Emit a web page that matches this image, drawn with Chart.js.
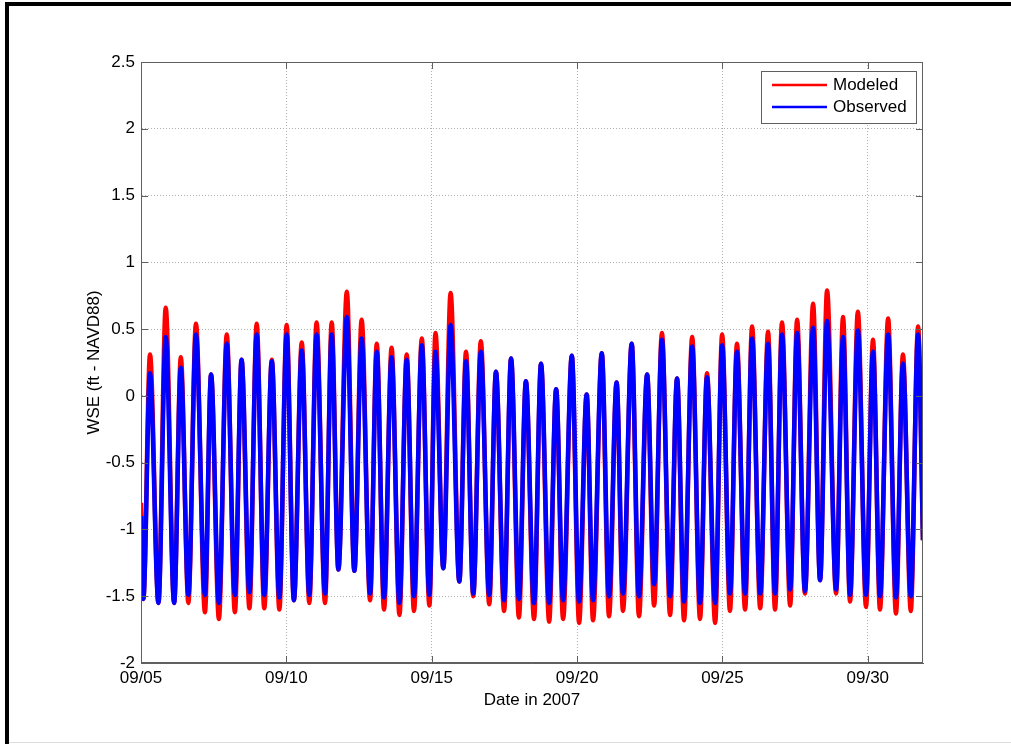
<!DOCTYPE html>
<html>
<head>
<meta charset="utf-8">
<script src="https://cdn.jsdelivr.net/npm/chart.js@4.4.0/dist/chart.umd.min.js"></script>
<style>
    html, body { margin: 0; padding: 0; background: #fff; }
</style>
</head>
<body>
<canvas id="chart" width="1011" height="744"></canvas>
<script>
// x values are days since 09/05 00:00
const xMax = 26.9;
const tickDays = [0, 5, 10, 15, 20, 25];
const tickLabels = ['09/05', '09/10', '09/15', '09/20', '09/25', '09/30'];
const yTicks = [-2, -1.5, -1, -0.5, 0, 0.5, 1, 1.5, 2, 2.5];
const yTickLabels = ['-2', '-1.5', '-1', '-0.5', '0', '0.5', '1', '1.5', '2', '2.5'];

// high water times and levels
const highTimes = [0.31, 0.85, 1.37, 1.89, 2.41, 2.95, 3.46, 3.98, 4.50, 5.01,
    5.53, 6.04, 6.56, 7.08, 7.59, 8.11, 8.62, 9.14, 9.66, 10.13,
    10.65, 11.18, 11.69, 12.21, 12.73, 13.24, 13.76, 14.28, 14.82, 15.33,
    15.85, 16.36, 16.88, 17.41, 17.92, 18.44, 18.96, 19.47, 19.99, 20.50,
    21.02, 21.57, 22.05, 22.57, 23.12, 23.60, 24.15, 24.66, 25.18, 25.70,
    26.21, 26.73];
const modeledHighs = [0.31, 0.66, 0.29, 0.54, 0.16, 0.46, 0.27, 0.54, 0.27, 0.53,
    0.40, 0.55, 0.55, 0.78, 0.57, 0.39, 0.36, 0.31, 0.43, 0.47,
    0.77, 0.33, 0.41, 0.18, 0.28, 0.11, 0.24, 0.05, 0.30, 0.01,
    0.32, 0.10, 0.39, 0.16, 0.47, 0.13, 0.44, 0.17, 0.46, 0.39,
    0.52, 0.48, 0.55, 0.57, 0.69, 0.79, 0.59, 0.63, 0.42, 0.58,
    0.31, 0.52];
const observedHighs = [0.17, 0.44, 0.21, 0.46, 0.16, 0.39, 0.27, 0.46, 0.26, 0.46,
    0.34, 0.46, 0.46, 0.59, 0.43, 0.33, 0.29, 0.27, 0.38, 0.33,
    0.53, 0.26, 0.33, 0.18, 0.28, 0.11, 0.24, 0.05, 0.30, 0.01,
    0.32, 0.10, 0.39, 0.16, 0.42, 0.13, 0.37, 0.14, 0.38, 0.33,
    0.43, 0.39, 0.46, 0.47, 0.51, 0.56, 0.44, 0.49, 0.33, 0.46,
    0.24, 0.46];

// low water times and levels
const lowTimes = [0.08, 0.60, 1.14, 1.63, 2.20, 2.68, 3.23, 3.73, 4.24, 4.76,
    5.26, 5.79, 6.33, 6.79, 7.34, 7.88, 8.36, 8.89, 9.39, 9.92,
    10.40, 10.95, 11.43, 11.98, 12.49, 13.00, 13.52, 14.04, 14.52, 15.07,
    15.55, 16.10, 16.58, 17.13, 17.65, 18.20, 18.68, 19.23, 19.75, 20.26,
    20.78, 21.30, 21.81, 22.33, 22.84, 23.36, 23.91, 24.39, 24.94, 25.42,
    25.97, 26.48];
const modeledLows = [-1.52, -1.55, -1.55, -1.55, -1.62, -1.67, -1.62, -1.59, -1.59, -1.60,
    -1.53, -1.55, -1.55, -1.30, -1.31, -1.53, -1.60, -1.64, -1.61, -1.57,
    -1.29, -1.39, -1.50, -1.56, -1.61, -1.66, -1.67, -1.69, -1.67, -1.70,
    -1.68, -1.65, -1.61, -1.65, -1.57, -1.64, -1.68, -1.67, -1.70, -1.61,
    -1.60, -1.59, -1.60, -1.57, -1.48, -1.38, -1.48, -1.54, -1.58, -1.60,
    -1.63, -1.61];
const observedLows = [-1.52, -1.55, -1.55, -1.49, -1.49, -1.55, -1.49, -1.47, -1.49, -1.51,
    -1.53, -1.49, -1.48, -1.30, -1.31, -1.48, -1.51, -1.55, -1.50, -1.49,
    -1.29, -1.39, -1.48, -1.49, -1.53, -1.52, -1.55, -1.55, -1.53, -1.54,
    -1.53, -1.50, -1.48, -1.50, -1.41, -1.50, -1.54, -1.55, -1.55, -1.48,
    -1.48, -1.48, -1.48, -1.45, -1.46, -1.38, -1.45, -1.49, -1.49, -1.50,
    -1.51, -1.50];

// values at the window edges
const modeledEnds = [-0.80, -1.08];
const observedEnds = [-0.90, -1.08];

function buildSeries(highs, lows, ends) {
    const pts = [{ x: 0, y: ends[0] }, { x: xMax, y: ends[1] }];
    highTimes.forEach((t, i) => pts.push({ x: t, y: highs[i] }));
    lowTimes.forEach((t, i) => pts.push({ x: t, y: lows[i] }));
    return pts.sort((a, b) => a.x - b.x);
}

const font = { family: '"Liberation Sans", Arial, sans-serif', size: 17 };

// matlab style box, inner ticks, legend and page frame
const decorations = {
    id: 'decorations',
    beforeDraw(chart) {
        const ctx = chart.ctx;
        ctx.save();
        ctx.fillStyle = '#fff';
        ctx.fillRect(0, 0, chart.width, chart.height);
        ctx.restore();
    },
    afterDraw(chart) {
        const { ctx, chartArea: a, scales } = chart;
        ctx.save();
        ctx.strokeStyle = '#606060';
        ctx.lineWidth = 1;
        ctx.strokeRect(a.left + 0.5, a.top + 0.5, a.right - a.left - 1, a.bottom - a.top - 1);
        ctx.beginPath();
        tickDays.forEach(v => {
            const px = Math.round(scales.x.getPixelForValue(v)) + 0.5;
            ctx.moveTo(px, a.bottom); ctx.lineTo(px, a.bottom - 7);
            ctx.moveTo(px, a.top); ctx.lineTo(px, a.top + 7);
        });
        yTicks.forEach(v => {
            const py = Math.round(scales.y.getPixelForValue(v)) + 0.5;
            ctx.moveTo(a.left, py); ctx.lineTo(a.left + 7, py);
            ctx.moveTo(a.right, py); ctx.lineTo(a.right - 7, py);
        });
        ctx.stroke();

        // legend
        const lx = 761, ly = 71, lw = 155, lh = 52;
        ctx.fillStyle = '#fff';
        ctx.fillRect(lx, ly, lw, lh);
        ctx.strokeRect(lx + 0.5, ly + 0.5, lw, lh);
        ctx.font = font.size + 'px ' + font.family;
        ctx.textBaseline = 'middle';
        chart.data.datasets.forEach((ds, i) => {
            const y = ly + 14 + i * 22;
            ctx.strokeStyle = ds.borderColor;
            ctx.lineWidth = 2.5;
            ctx.beginPath();
            ctx.moveTo(lx + 11, y); ctx.lineTo(lx + 66, y);
            ctx.stroke();
            ctx.fillStyle = '#000';
            ctx.fillText(ds.label, lx + 72, y);
        });

        // page frame
        ctx.fillStyle = '#000';
        ctx.fillRect(5, 2, chart.width - 5, 4);
        ctx.fillRect(5, 2, 4, chart.height - 2);
        ctx.fillStyle = '#dcdcdc';
        ctx.fillRect(9, 742, chart.width - 9, 1);
        ctx.restore();
    }
};

const gridColor = '#b0b0b0';

const ctx = document.getElementById('chart').getContext('2d');
const chart = new Chart(ctx, {
    type: 'line',
    data: {
        datasets: [{
            label: 'Modeled',
            data: buildSeries(modeledHighs, modeledLows, modeledEnds),
            borderColor: 'rgb(255, 0, 0)',
            borderWidth: 4.5,
            pointRadius: 0,
            cubicInterpolationMode: 'monotone',
            order: 2
        },
        {
            label: 'Observed',
            data: buildSeries(observedHighs, observedLows, observedEnds),
            borderColor: 'rgb(0, 0, 255)',
            borderWidth: 4.5,
            pointRadius: 0,
            cubicInterpolationMode: 'monotone',
            order: 1
        }]
    },
    options: {
        responsive: false,
        animation: false,
        devicePixelRatio: 1,
        layout: { padding: { left: 80, right: 88, top: 62, bottom: 0 } },
        plugins: { legend: { display: false }, tooltip: { enabled: false } },
        scales: {
            x: {
                type: 'linear',
                min: 0,
                max: xMax,
                afterBuildTicks: s => { s.ticks = tickDays.map(v => ({ value: v })); },
                afterFit: s => { s.height = 81; },
                ticks: {
                    callback: v => tickLabels[tickDays.indexOf(v)],
                    autoSkip: false,
                    maxRotation: 0,
                    padding: 5,
                    color: '#000',
                    font: font
                },
                grid: { color: gridColor, lineWidth: 1, drawTicks: false },
                border: { color: '#606060', width: 1, dash: [1, 2] },
                title: {
                    display: true,
                    text: 'Date in 2007',
                    color: '#000',
                    font: font,
                    padding: { top: 0, bottom: 33 }
                }
            },
            y: {
                min: -2,
                max: 2.5,
                afterBuildTicks: s => { s.ticks = yTicks.map(v => ({ value: v })); },
                afterFit: s => { s.width = 61; },
                ticks: {
                    callback: v => yTickLabels[yTicks.indexOf(v)],
                    padding: 6,
                    color: '#000',
                    font: font
                },
                grid: { color: gridColor, lineWidth: 1, drawTicks: false },
                border: { color: '#606060', width: 1, dash: [1, 2] },
                title: {
                    display: true,
                    text: 'WSE (ft - NAVD88)',
                    color: '#000',
                    font: font,
                    padding: { top: 4, bottom: 0 }
                }
            }
        }
    },
    plugins: [decorations]
});
</script>
</body>
</html>
